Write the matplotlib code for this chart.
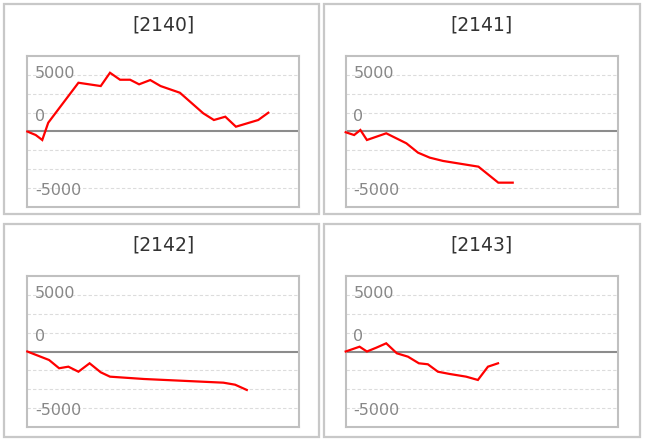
import matplotlib
matplotlib.use("Agg")
import matplotlib.pyplot as plt
from matplotlib.patches import Rectangle
import matplotlib.transforms as mtransforms

# ---- data ----
titles = ["[2140]", "[2141]", "[2142]", "[2143]"]

x_2140 = [0, 3.1, 5.5, 7.7, 18.8, 27.0, 30.4, 34.1, 37.8, 41.1, 45.2, 49.0, 56.1, 64.7, 68.6, 72.8, 76.7, 84.9, 88.6]
y_2140 = [0, -470, -1130, 1170, 6490, 6050, 7820, 6890, 6890, 6280, 6850, 6050, 5160, 2420, 1530, 1970, 640, 1530, 2500]

x_2141 = [0, 3.1, 5.4, 7.8, 14.9, 22.3, 26.6, 30.9, 35.8, 48.8, 56.1, 61.4]
y_2141 = [-100, -470, 200, -1130, -240, -1570, -2820, -3480, -3920, -4680, -6810, -6810]

x_2142 = [0, 8.0, 11.7, 15.1, 18.8, 22.9, 27.0, 30.4, 42.9, 72.1, 76.4, 80.7]
y_2142 = [0, -1130, -2230, -2020, -2690, -1570, -2770, -3350, -3660, -4150, -4420, -5120]

x_2143 = [0, 5.1, 7.8, 11.2, 14.9, 18.8, 22.9, 26.9, 30.2, 33.9, 38.2, 44.3, 48.6, 52.3, 56.0]
y_2143 = [0, 640, 0, 500, 1090, -240, -690, -1570, -1700, -2690, -2990, -3350, -3790, -2020, -1570]

series_x = [x_2140, x_2141, x_2142, x_2143]
series_y = [y_2140, y_2141, y_2142, y_2143]

grid_vals = [-7500, -5000, -2500, 2500, 5000, 7500]
label_texts = ["5000", "0", "-5000"]

# ---- layout ----
W, H = 646, 440
fig = plt.figure(figsize=(W / 100, H / 100), dpi=100)
fig.patch.set_facecolor("white")

# panel boxes (pixels: left, top, right, bottom)
boxes = [(4, 4, 319, 214), (324, 4, 640, 214), (4, 224, 319, 437), (324, 224, 640, 437)]
# plot areas (pixels: left, top, right, bottom)
areas = [(27.3, 56, 299.3, 207), (345.7, 56, 617.7, 207),
         (27.3, 276, 299.3, 427), (345.7, 276, 617.7, 427)]
label_pos = [7700, 2050, -7900]

for i in range(4):
    bl, bt, br, bb = boxes[i]
    fig.patches.append(Rectangle((bl / W, 1 - bb / H), (br - bl) / W, (bb - bt) / H,
                                 transform=fig.transFigure, fill=False,
                                 edgecolor="#c8c8c8", linewidth=1.6))
    l, t, r, b = areas[i]
    ax = fig.add_axes([l / W, 1 - b / H, (r - l) / W, (b - t) / H])
    ax.set_xlim(0, 100)
    ax.set_ylim(-10050, 10050)
    for g in grid_vals:
        ax.axhline(g, color="#dcdcdc", linewidth=0.8, linestyle=(0, (3, 2)), zorder=1)
    ax.axhline(0, color="#8c8c8c", linewidth=1.5, zorder=2)
    ax.plot(series_x[i], series_y[i], color="#ff0000", linewidth=1.6, zorder=3,
            clip_on=False, solid_joinstyle="miter")
    ax.set_xticks([])
    ax.set_yticks([])
    for s in ax.spines.values():
        s.set_color("#c0c0c0")
        s.set_linewidth(1.5)
    trans = mtransforms.blended_transform_factory(ax.transAxes, ax.transData)
    for txt, yp in zip(label_texts, label_pos):
        ax.text(0.028, yp, txt, transform=trans, ha="left", va="center",
                fontsize=11.5, color="#878787", zorder=4)
    cx = (l + r) / 2
    fig.text(cx / W, 1 - (bt + 21) / H, titles[i], ha="center", va="center",
             fontsize=13.5, color="#333333")

fig.savefig("out.png", dpi=100, facecolor="white")
